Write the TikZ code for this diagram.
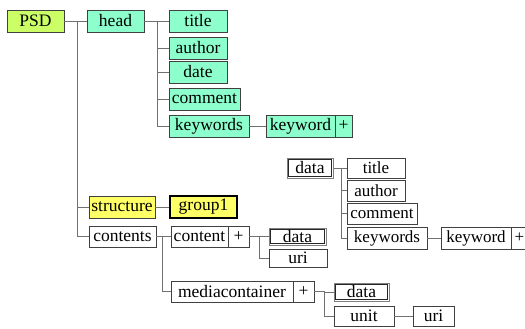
\documentclass[tikz,border=0pt]{standalone}
\usepackage{fontspec}
\setmainfont{Liberation Serif}
\newfontfamily\tnr{Liberation Serif}
\definecolor{lime}{HTML}{CCFF66}
\definecolor{aqua}{HTML}{8CFFCC}
\definecolor{yel}{HTML}{FFFF66}
\definecolor{bord}{HTML}{404040}
\definecolor{conn}{HTML}{707070}
\newcommand{\bx}[7]{\node[#6, minimum width={#4pt-#2pt}, minimum height={#5pt-#3pt}] (#1) at ({(#2+#4)/2},{(#3+#5)/2}) {#7};}
\newcommand{\dblin}[1]{\draw[black!85, line width=0.8pt] ([shift={(2pt,-2pt)}]#1.north west) rectangle ([shift={(-2pt,2pt)}]#1.south east);}
\begin{document}
\begin{tikzpicture}[x=1pt,y=-1pt,
  box/.style={draw=bord, line width=0.9pt, inner sep=0pt, font=\tnr\fontsize{17.5}{17.5}\selectfont, anchor=center},
  boxs/.style={box, font=\tnr\fontsize{17}{17}\selectfont},
  dbl/.style={box, draw=gray, line width=1pt},
  link/.style={draw=conn, line width=0.9pt}]
\useasboundingbox (0,0) rectangle (525,329);
% first cluster
\bx{PSD}{7}{10}{64}{32}{box, fill=lime}{PSD}
\bx{head}{87}{10}{144}{32}{box, fill=aqua}{head}
\bx{title}{169}{10}{227}{32}{box, fill=aqua}{title}
\bx{author}{169}{37}{227}{59}{box, fill=aqua}{author}
\bx{date}{169}{61}{227}{83}{box, fill=aqua}{date}
\bx{comment}{169}{88}{240}{110}{box, fill=aqua}{comment}
\bx{keywords}{169}{115}{249}{137}{box, fill=aqua}{keywords}
\bx{keyword}{266}{115}{335}{137}{box, fill=aqua}{keyword}
\bx{kplus}{335}{115}{352}{137}{box, fill=aqua}{+}
\bx{structure}{89}{196}{155}{218}{box, fill=yel}{structure}
\bx{group}{170}{196}{237}{218}{box, fill=yel, draw=black, line width=2.2pt}{group1}
\bx{contents}{89}{226}{156}{247}{box}{contents}
\bx{content}{171}{226}{228}{247}{box}{content}
\bx{cplus}{228}{226}{249}{247}{box}{+}
\bx{cdata}{269}{228}{326}{245}{dbl}{data}
\dblin{cdata}
\bx{curi}{269}{249}{327}{267}{box}{uri}
\bx{media}{171}{281}{293}{302}{box}{mediacontainer}
\bx{mplus}{293}{281}{314}{302}{box}{+}
\bx{mdata}{334}{283}{389}{301}{dbl}{data}
\dblin{mdata}
\bx{unit}{334}{306}{394}{326}{box}{unit}
\bx{uuri}{413}{306}{454}{326}{box}{uri}
% right cluster
\bx{data}{287}{158}{333}{178}{dbl}{data}
\dblin{data}
\bx{rtitle}{347}{158}{405}{178}{boxs}{title}
\bx{rauthor}{347}{180}{405}{201}{boxs}{author}
\bx{rcomment}{347}{203}{417}{224}{boxs}{comment}
\bx{rkeywords}{347}{227}{427}{249}{boxs}{keywords}
\bx{rkeyword}{441}{227}{511}{249}{boxs}{keyword}
\bx{rkplus}{511}{227}{528}{249}{boxs}{+}
% connectors
\coordinate (j1) at (77,21);
\draw[link] (PSD.east) -- (head.west);
\draw[link] (j1) |- (structure.west);
\draw[link] (j1) |- (contents.west);
\draw[link] (structure.east) -- (group.west);
\coordinate (j2) at (157,21);
\draw[link] (head.east) -- (title.west);
\draw[link] (j2) |- (author.west);
\draw[link] (j2) |- (date.west);
\draw[link] (j2) |- (comment.west);
\draw[link] (j2) |- (keywords.west);
\draw[link] (keywords.east) -- (keyword.west);
\coordinate (j3) at (162,236.5);
\draw[link] (contents.east) -- (content.west);
\draw[link] (j3) |- (media.west);
\coordinate (j4) at (259,236.5);
\draw[link] (cplus.east) -- (j4) -- (cdata.west);
\draw[link] (j4) |- (curi.west);
\coordinate (j5) at (324,291.5);
\draw[link] (mplus.east) -- (j5) |- (mdata.west);
\draw[link] (j5) |- (unit.west);
\draw[link] (unit.east) -- (uuri.west);
\coordinate (j6) at (341,168);
\draw[link] (data.east) -- (rtitle.west);
\draw[link] (j6) |- (rauthor.west);
\draw[link] (j6) |- (rcomment.west);
\draw[link] (j6) |- (rkeywords.west);
\draw[link] (rkeywords.east) -- (rkeyword.west);
\end{tikzpicture}
\end{document}
